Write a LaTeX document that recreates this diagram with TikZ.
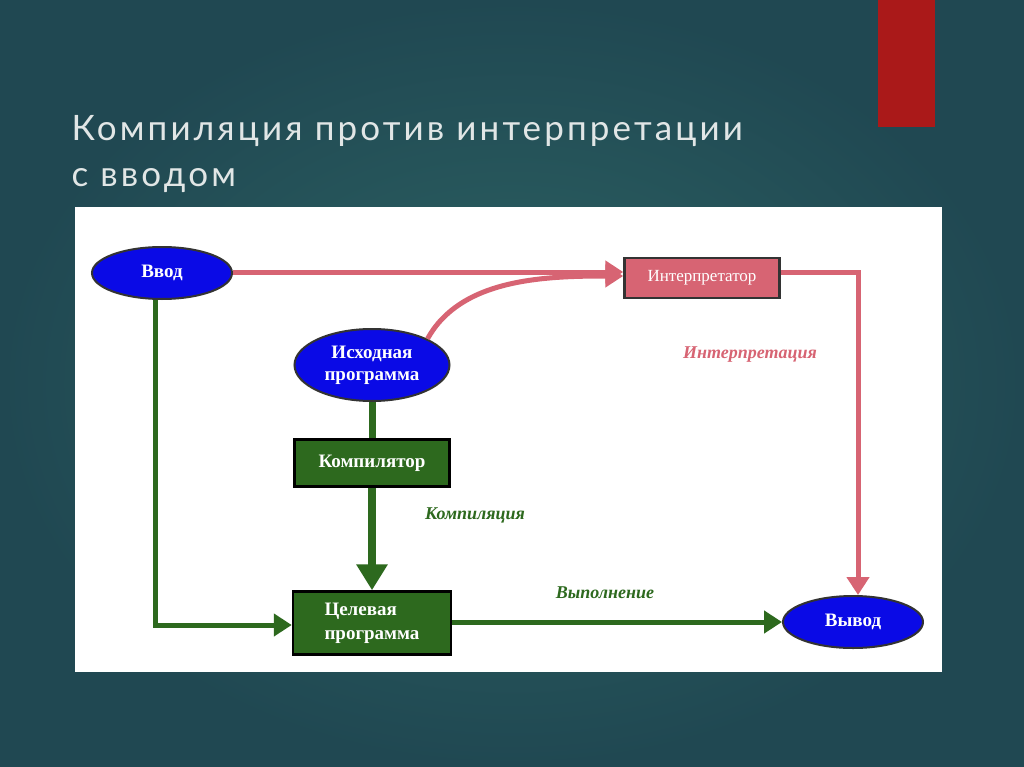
\documentclass[tikz,border=0pt]{standalone}
\usepackage{fontspec}
\setmainfont{Liberation Serif}
\newfontfamily\titlefont[LetterSpace=9]{Lato}
\usetikzlibrary{shapes.geometric,arrows.meta}
\definecolor{bgc}{RGB}{32,72,82}
\definecolor{bgl}{RGB}{45,100,100}
\definecolor{redbar}{RGB}{170,25,25}
\definecolor{blu}{RGB}{10,10,230}
\definecolor{pnk}{RGB}{215,100,115}
\definecolor{grn}{RGB}{45,105,30}
\definecolor{txtg}{RGB}{225,230,230}
\begin{document}
\begin{tikzpicture}[x=1pt,y=-1pt,
  oval/.style={ellipse,draw=black!80,line width=2pt,fill=blu,text=white,font=\bfseries\fontsize{19}{22}\selectfont,align=center,inner sep=0pt},
  pbox/.style={rectangle,draw=black!80,line width=2.5pt,fill=pnk,text=white,font=\fontsize{17}{20}\selectfont,inner sep=0pt},
  gbox/.style={rectangle,draw=black,line width=2.5pt,fill=grn,text=white,font=\bfseries\fontsize{19}{24}\selectfont,align=left,inner sep=0pt},
  parr/.style={draw=pnk,line width=5pt,-{Triangle[length=18pt,width=22pt]}},
  garr/.style={draw=grn,line width=5pt,-{Triangle[length=18pt,width=22pt]}},
  lbl/.style={font=\bfseries\itshape\fontsize{18}{20}\selectfont}]
\useasboundingbox (0,0) rectangle (1024,767);
\shade[inner color=bgl,outer color=bgc] (0,0) rectangle (1024,767);
\fill[redbar] (878,0) rectangle (935,127);
\node[anchor=north west,align=left,text=txtg,font=\titlefont\fontsize{35}{46}\selectfont] (title) at (68,112) {Компиляция против интерпретации\\с вводом};
\fill[white] (75,207) rectangle (942,672);
\node[oval,minimum width=140pt,minimum height=52pt] (in) at (162,273) {Ввод};
\node[pbox,minimum width=155pt,minimum height=40pt] (int) at (702,278) {Интерпретатор};
\node[oval,minimum width=155pt,minimum height=72pt] (src) at (372,365) {Исходная\\программа};
\node[gbox,minimum width=155pt,minimum height=47pt] (comp) at (372,463) {Компилятор};
\node[gbox,minimum width=158pt,minimum height=63pt] (tgt) at (372,623) {Целевая\\программа};
\node[oval,minimum width=140pt,minimum height=52pt] (out) at (853,622) {Вывод};
\coordinate (c1) at (858,272);
\coordinate (c2) at (155,625);
\draw[parr] (in.east|-0,272) -- (int.west|-0,272);
\draw[parr] (src.north east) .. controls (460,280) and (540,276) .. (int.west|-0,276);
\draw[parr] (int.east|-0,272) -- (c1) -- (c1|-out.north);
\draw[garr] (in.south-|155,0) -- (c2) -- (tgt.west|-c2);
\draw[draw=grn,line width=7pt] (src.south) -- (comp.north);
\draw[draw=grn,line width=8pt,-{Triangle[length=26pt,width=30pt]}] (comp.south) -- (tgt.north);
\draw[garr] (tgt.east|-0,622) -- (out.west);
\node[lbl,text=pnk] (l1) at (750,355) {Интерпретация};
\node[lbl,text=grn] (l2) at (475,515) {Компиляция};
\node[lbl,text=grn] (l3) at (605,593) {Выполнение};
\end{tikzpicture}
\end{document}
